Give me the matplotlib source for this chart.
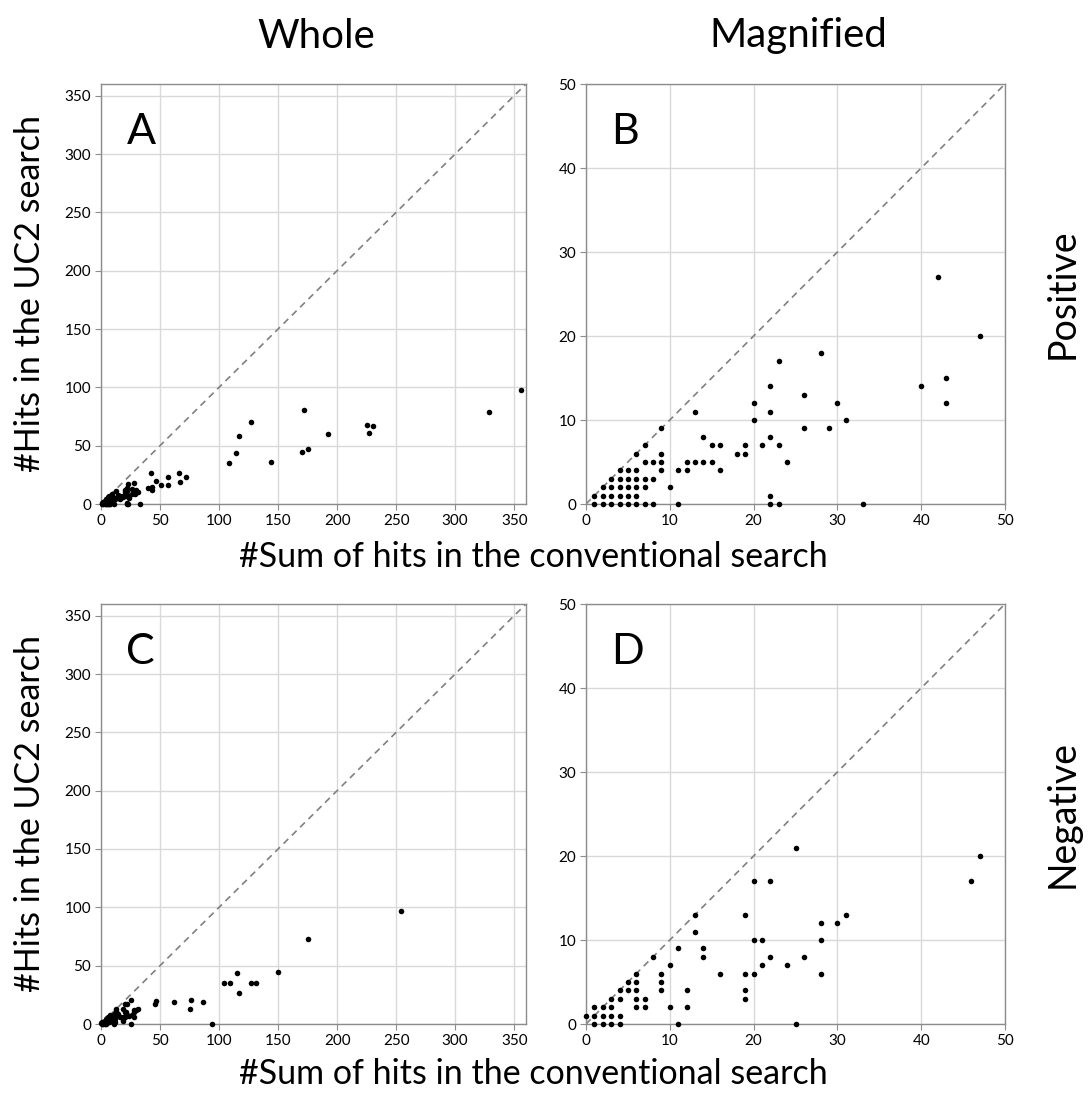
import matplotlib
matplotlib.use("Agg")
from matplotlib import pyplot as plt

plt.rcParams['font.family'] = ['Lato', 'DejaVu Sans']

# positive set: (conventional sum, UC2 hits)
pos_x = [42, 47, 28, 23, 22, 26, 40, 43, 43, 20, 30, 13, 22, 20, 31, 9, 26, 29, 14, 22,
         7, 15, 16, 19, 21, 23, 6, 9, 18, 19, 7, 8, 9, 12, 13, 14, 15, 24,
         4, 5, 6, 9, 11, 12, 16, 3, 4, 5, 6, 7, 8, 2, 3, 4, 5, 6, 7, 10,
         1, 2, 3, 4, 5, 6, 22, 1, 2, 3, 4, 5, 6, 7, 8, 11, 22, 23, 33,
         51, 57, 57, 66, 67, 72, 108, 114, 117, 127, 144, 170, 172, 175, 192,
         225, 227, 230, 329, 356]
pos_y = [27, 20, 18, 17, 14, 13, 14, 15, 12, 12, 12, 11, 11, 10, 10, 9, 9, 9, 8, 8,
         7, 7, 7, 7, 7, 7, 6, 6, 6, 6, 5, 5, 5, 5, 5, 5, 5, 5,
         4, 4, 4, 4, 4, 4, 4, 3, 3, 3, 3, 3, 3, 2, 2, 2, 2, 2, 2, 2,
         1, 1, 1, 1, 1, 1, 1, 0, 0, 0, 0, 0, 0, 0, 0, 0, 0, 0, 0,
         16, 23, 16, 27, 19, 23, 35, 44, 58, 70, 36, 45, 81, 47, 60,
         68, 61, 67, 79, 98]

# negative set
neg_x = [25, 47, 46, 20, 22, 13, 19, 31, 28, 30, 13, 20, 21, 28, 11, 14, 8, 14, 22, 26,
         10, 21, 24, 6, 9, 16, 19, 20, 28, 5, 6, 9, 4, 5, 6, 9, 12, 19,
         3, 4, 6, 7, 19, 1, 2, 3, 6, 7, 10, 12, 0, 1, 2, 3, 4,
         1, 2, 3, 4, 11, 25,
         62, 75, 76, 86, 94, 104, 109, 115, 117, 127, 131, 150, 175, 254]
neg_y = [21, 20, 17, 17, 17, 13, 13, 13, 12, 12, 11, 10, 10, 10, 9, 9, 8, 8, 8, 8,
         7, 7, 7, 6, 6, 6, 6, 6, 6, 5, 5, 5, 4, 4, 4, 4, 4, 4,
         3, 3, 3, 3, 3, 2, 2, 2, 2, 2, 2, 2, 1, 1, 1, 1, 1,
         0, 0, 0, 0, 0, 0,
         19, 13, 21, 19, 0, 35, 35, 44, 27, 35, 35, 45, 73, 97]

whole_ticks = [0, 50, 100, 150, 200, 250, 300, 350]
mag_ticks = [0, 10, 20, 30, 40, 50]

W, H = 1088, 1097
fig = plt.figure(figsize=(W / 100, H / 100), dpi=100)

def box(l, t, r, b):
    return [l / W, 1 - b / H, (r - l) / W, (b - t) / H]

panels = [
    (box(101, 84, 526, 504), pos_x, pos_y, 360, whole_ticks, 'A'),
    (box(586, 84, 1005, 504), pos_x, pos_y, 50, mag_ticks, 'B'),
    (box(101, 604, 526, 1024), neg_x, neg_y, 360, whole_ticks, 'C'),
    (box(586, 604, 1005, 1024), neg_x, neg_y, 50, mag_ticks, 'D'),
]

for rect, xs, ys, lim, ticks, letter in panels:
    ax = fig.add_axes(rect)
    ax.plot([0, lim], [0, lim], color='#808080', linestyle=(0, (4, 3)), linewidth=1.2, zorder=2)
    # only the points inside the view, drawn unclipped so the ones on the axes stay round
    inside = [(x, y) for x, y in zip(xs, ys) if x <= lim and y <= lim]
    ax.scatter([p[0] for p in inside], [p[1] for p in inside], s=16, color='black',
               zorder=3, clip_on=False, linewidths=0)
    ax.set_xlim(0, lim)
    ax.set_ylim(0, lim)
    ax.set_xticks(ticks)
    ax.set_yticks(ticks)
    ax.grid(True, color='#d9d9d9', linewidth=1)
    ax.set_axisbelow(True)
    for s in ax.spines.values():
        s.set_color('#8c8c8c')
        s.set_linewidth(1)
    ax.tick_params(length=4, color='#8c8c8c', labelsize=11, pad=3)
    ax.text(0.06, 0.93, letter, transform=ax.transAxes, fontsize=31, va='top', ha='left')

fig.text(316 / W, 1 - 36 / H, 'Whole', fontsize=29, ha='center', va='center')
fig.text(798 / W, 1 - 36 / H, 'Magnified', fontsize=29, ha='center', va='center')
fig.text(533 / W, 1 - 557 / H, '#Sum of hits in the conventional search', fontsize=24.5, ha='center', va='center')
fig.text(533 / W, 1 - 1074 / H, '#Sum of hits in the conventional search', fontsize=24.5, ha='center', va='center')
fig.text(30 / W, 1 - 294 / H, '#Hits in the UC2 search', fontsize=24.5, ha='center', va='center', rotation=90)
fig.text(30 / W, 1 - 814 / H, '#Hits in the UC2 search', fontsize=24.5, ha='center', va='center', rotation=90)
fig.text(1063 / W, 1 - 294 / H, 'Positive', fontsize=27, ha='center', va='center', rotation=90)
fig.text(1063 / W, 1 - 814 / H, 'Negative', fontsize=27, ha='center', va='center', rotation=90)

fig.savefig('out.png', dpi=100)
